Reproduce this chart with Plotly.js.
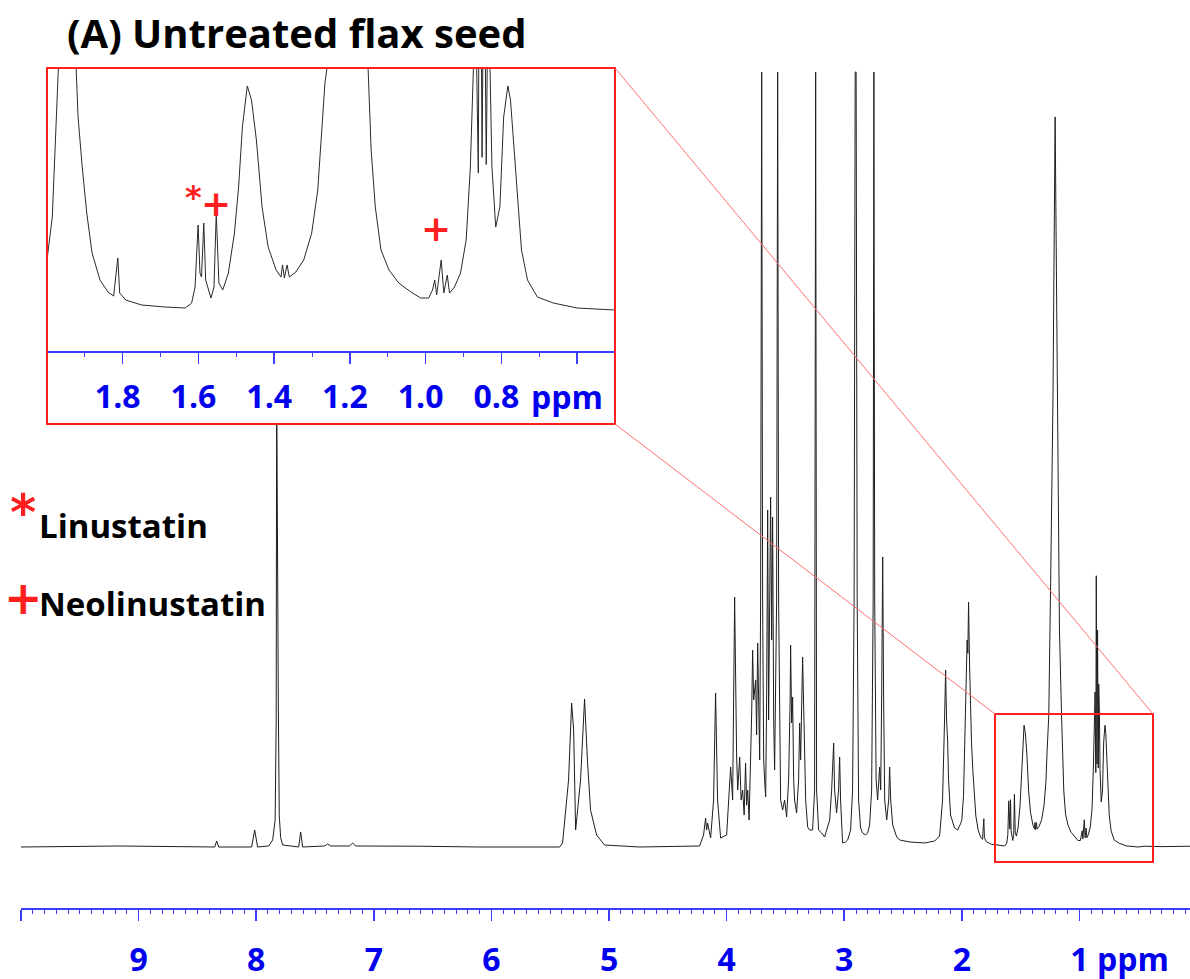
<!DOCTYPE html>
<html><head><meta charset="utf-8">
<script src="https://cdn.plot.ly/plotly-3.0.1.min.js"></script>
<style>html,body{margin:0;padding:0;background:#fff}#chart{width:1190px;height:979px}</style>
</head><body><div id="chart"></div>
<script>
// ---------- spectrum (chemical shift in ppm, intensity in % of full scale) ----------
// 10 → 2.0 ppm
const highPpm = [10.0, 9.164, 8.353, 8.336, 8.319, 8.039, 8.013, 7.988, 7.894, 7.860, 7.839, 7.830, 7.826, 7.819, 7.812, 7.804, 7.792, 7.775, 7.639, 7.622, 7.605, 7.418, 7.393, 7.367, 7.206, 7.180, 7.155, 6.610, 6.100, 5.420, 5.395, 5.344, 5.318, 5.301, 5.284, 5.242, 5.208, 5.183, 5.157, 5.106, 5.038, 4.740, 4.230, 4.196, 4.179, 4.170, 4.162, 4.136, 4.111, 4.094, 4.077, 4.051, 4.000, 3.966, 3.949, 3.932, 3.923, 3.915, 3.906, 3.889, 3.877, 3.864, 3.851, 3.839, 3.830, 3.821, 3.809, 3.796, 3.787, 3.779, 3.770, 3.753, 3.745, 3.736, 3.728, 3.719, 3.711, 3.702, 3.694, 3.685, 3.677, 3.668, 3.660, 3.651, 3.643, 3.634, 3.626, 3.617, 3.609, 3.600, 3.592, 3.575, 3.566, 3.558, 3.549, 3.541, 3.524, 3.507, 3.490, 3.473, 3.460, 3.456, 3.447, 3.439, 3.430, 3.422, 3.405, 3.388, 3.379, 3.371, 3.354, 3.345, 3.337, 3.328, 3.311, 3.294, 3.269, 3.252, 3.243, 3.235, 3.218, 3.192, 3.167, 3.141, 3.124, 3.107, 3.090, 3.082, 3.065, 3.048, 3.039, 3.031, 3.014, 2.988, 2.971, 2.946, 2.929, 2.916, 2.907, 2.899, 2.890, 2.878, 2.861, 2.844, 2.818, 2.801, 2.784, 2.767, 2.754, 2.748, 2.741, 2.729, 2.716, 2.699, 2.690, 2.682, 2.673, 2.665, 2.656, 2.639, 2.622, 2.614, 2.605, 2.588, 2.554, 2.529, 2.444, 2.316, 2.231, 2.189, 2.164, 2.147, 2.138, 2.130, 2.121, 2.113, 2.096, 2.062, 2.036, 2.011];
const highInt = [0, 0.13, 0, 0.77, 0, 0, 2.19, 0, 0.13, 0.9, 3.5, 16.4, 60, 30, 18.6, 4.1, 1.2, 0.26, 0, 1.94, 0, 0.13, 0.39, 0.13, 0.13, 0.52, 0.13, 0.1, 0, 0, 0.52, 8.65, 18.58, 15.1, 2.19, 8.65, 19.10, 11.0, 4.77, 1.55, 0.26, 0, 0.13, 1.55, 3.74, 2.19, 3.10, 1.16, 6.06, 19.87, 6.06, 1.16, 1.55, 10.32, 6.06, 32.26, 19.0, 11.61, 7.35, 11.61, 6.06, 7.35, 4.13, 10.84, 5.4, 7.35, 3.48, 11.23, 17.29, 25.42, 18.97, 21.55, 14.45, 26.32, 16.39, 11.23, 31.87, 100, 31.87, 11.23, 8.65, 6.45, 18.97, 43.48, 16.39, 31.87, 45.16, 26.71, 42.58, 16.39, 9.94, 31.87, 100, 31.87, 11.23, 6.06, 4.77, 6.06, 3.87, 8.65, 18.97, 26.06, 16.0, 19.35, 8.65, 6.06, 4.39, 8.65, 16.0, 11.23, 24.52, 16.39, 11.61, 6.06, 2.58, 2.19, 2.19, 7.35, 100, 7.35, 2.19, 1.81, 1.29, 2.45, 3.48, 7.35, 13.42, 7.35, 4.39, 7.35, 11.61, 6.06, 0.52, 0.65, 0.9, 2.19, 7.35, 31.87, 100, 100, 31.87, 6.06, 2.45, 1.81, 1.55, 1.81, 2.84, 7.35, 31.87, 100, 31.87, 8.65, 6.06, 10.32, 7.35, 18.97, 37.42, 18.97, 6.06, 3.48, 6.06, 10.32, 6.06, 2.84, 1.29, 0.9, 0.65, 0.52, 0.77, 1.42, 6.06, 16.39, 22.84, 16.39, 13.81, 8.65, 4.13, 2.45, 2.19, 3.0];
// 2.0 → 0.5 ppm
const midPpm = [2.000, 1.986, 1.972, 1.967, 1.960, 1.955, 1.949, 1.943, 1.935, 1.928, 1.923, 1.918, 1.907, 1.895, 1.881, 1.860, 1.839, 1.824, 1.813, 1.808, 1.792, 1.750, 1.688, 1.635, 1.618, 1.609, 1.601, 1.596, 1.592, 1.586, 1.581, 1.567, 1.559, 1.553, 1.546, 1.536, 1.521, 1.505, 1.494, 1.484, 1.471, 1.460, 1.447, 1.432, 1.416, 1.395, 1.382, 1.378, 1.373, 1.366, 1.360, 1.343, 1.322, 1.301, 1.285, 1.275, 1.266, 1.261, 1.245, 1.225, 1.207, 1.190, 1.170, 1.152, 1.144, 1.133, 1.118, 1.097, 1.071, 1.039, 1.013, 0.992, 0.982, 0.976, 0.971, 0.959, 0.952, 0.943, 0.937, 0.924, 0.908, 0.893, 0.882, 0.874, 0.867, 0.861, 0.857, 0.851, 0.846, 0.840, 0.836, 0.830, 0.825, 0.815, 0.804, 0.794, 0.783, 0.776, 0.762, 0.747, 0.731, 0.705, 0.663, 0.600, 0.501];
const midInt = [3.51, 6.52, 14.73, 16.9, 22, 26.7, 25, 31.6, 24, 19, 16.9, 13.53, 10.03, 6.80, 4.00, 2.10, 1.26, 0.98, 3.65, 1.19, 0.70, 0.35, 0.21, 0.14, 0.49, 1.61, 5.96, 2.59, 2.31, 6.10, 2.10, 0.84, 1.61, 6.80, 1.89, 1.40, 2.59, 5.40, 8.63, 12.83, 15.71, 14.73, 11.92, 7.22, 4.42, 2.81, 2.31, 3.16, 2.24, 3.16, 2.31, 2.66, 3.51, 5.40, 8.42, 12.41, 15.92, 16.9, 34, 58, 94.2, 58, 28, 16.9, 11.22, 7.22, 4.21, 2.81, 1.89, 1.26, 0.84, 0.84, 1.40, 2.10, 1.05, 3.51, 1.19, 2.45, 1.19, 1.61, 2.59, 4.91, 10.03, 16.9, 20, 9.6, 35, 10.7, 28, 10.2, 21, 16.9, 10.03, 5.82, 7.22, 13.53, 15.71, 14.73, 9.61, 4.21, 2.10, 0.91, 0.49, 0.14, 0.0];
// 0.5 → 0 ppm
const lowPpm = [0.45, 0.30, 0.06];
const lowInt = [0.1, 0.05, 0.1];

// ---------- axis ticks and labels ----------
const mainTickVals = [10, 9, 8, 7, 6, 5, 4, 3, 2, 1];
const mainTickText = ['', '9', '8', '7', '6', '5', '4', '3', '2', '1'];
const insetTickVals = [2.0, 1.8, 1.6, 1.4, 1.2, 1.0, 0.8, 0.6];
const insetTickText = ['', '1.8', '1.6', '1.4', '1.2', '1.0', '0.8', ''];
const unitLabel = 'ppm';
const titleText = '(A) Untreated flax seed';

// ---------- assignments ----------
const compoundSymbols = ['*', '+'];
const compoundNames = ['Linustatin', 'Neolinustatin'];
const markedPeakPpm = [1.612, 1.555, 0.973];
const markedPeakSymbol = ['*', '+', '+'];

// ---------- layout helpers ----------
const W = 1190, H = 979, ML = 21, MR = 0, MT = 66, MB = 71;
const PW = W - ML - MR, PH = H - MT - MB;
const fx = x => (x - ML) / PW;
const fy = y => (H - MB - y) / PH;
const AX = '#3c3cff', LAB = '#0000ee', RED = '#ff1f1f';

const spectrumPpm = highPpm.concat(midPpm, lowPpm);
const spectrumInt = highInt.concat(midInt, lowInt);

const mainBase = 847, mainScale = 7.75;      // px
const insetBase = 310, insetScale = 14.26;   // px

const tickFont = {family: 'Open Sans', size: 32, color: LAB, weight: 700};
function axisStyle(extra) {
  return Object.assign({
    showgrid: false, zeroline: false, showline: true, linecolor: AX, linewidth: 1.5,
    ticks: 'outside', ticklen: 11, tickwidth: 1.5, tickcolor: AX, tickmode: 'array',
    tickfont: tickFont, fixedrange: true,
    minor: {tickmode: 'linear', tick0: 0, dtick: 0.1, ticks: 'outside', ticklen: 4, tickwidth: 1, tickcolor: AX, showgrid: false}
  }, extra);
}

const traces = [
  {x: spectrumPpm, y: spectrumInt, xaxis: 'x', yaxis: 'y', mode: 'lines',
   line: {color: '#1e1e1e', width: 1}, hoverinfo: 'skip', showlegend: false},
  {x: spectrumPpm, y: spectrumInt, xaxis: 'x2', yaxis: 'y2', mode: 'lines',
   line: {color: '#2a2a2a', width: 1}, hoverinfo: 'skip', showlegend: false}
];

const annotations = [];
// unit labels
annotations.push({xref: 'x', yref: 'paper', x: 0.548, y: fy(958), text: unitLabel, showarrow: false,
  xanchor: 'center', yanchor: 'middle', font: tickFont});
annotations.push({xref: 'x2', yref: 'paper', x: 0.628, y: fy(396), text: unitLabel, showarrow: false,
  xanchor: 'center', yanchor: 'middle', font: tickFont});
// compound key
const keyY = [525, 603];
const symY = [513, 598];
const symSize = [50, 46];
compoundNames.forEach((n, i) => {
  annotations.push({xref: 'paper', yref: 'paper', x: fx(37), y: fy(keyY[i]), text: n, showarrow: false,
    xanchor: 'left', yanchor: 'middle', font: {family: 'Open Sans', size: 33, color: '#000', weight: 700}});
  annotations.push({xref: 'paper', yref: 'paper', x: fx(23), y: fy(symY[i]), text: compoundSymbols[i], showarrow: false,
    xanchor: 'center', yanchor: 'middle', font: {family: 'DejaVu Sans', size: symSize[i], color: RED, weight: 700}});
});
// peak markers in the inset
const markY = [197, 203, 229];
const markSize = [32, 36, 36];
markedPeakPpm.forEach((p, i) => {
  annotations.push({xref: 'x2', yref: 'paper', x: p, y: fy(markY[i]), text: markedPeakSymbol[i], showarrow: false,
    xanchor: 'center', yanchor: 'middle', font: {family: 'DejaVu Sans', size: markSize[i], color: RED, weight: 700}});
});

const shapes = [
  {type: 'rect', xref: 'paper', yref: 'paper', x0: fx(995), x1: fx(1153), y0: fy(862), y1: fy(714), line: {color: RED, width: 2}},
  {type: 'rect', xref: 'paper', yref: 'paper', x0: fx(47), x1: fx(615), y0: fy(424), y1: fy(68), line: {color: RED, width: 2}},
  {type: 'line', xref: 'paper', yref: 'paper', x0: fx(615), y0: fy(68), x1: fx(1153), y1: fy(714), line: {color: '#ff7070', width: 1}},
  {type: 'line', xref: 'paper', yref: 'paper', x0: fx(615), y0: fy(424), x1: fx(995), y1: fy(714), line: {color: '#ff7070', width: 1}}
];

const layout = {
  width: W, height: H,
  margin: {l: ML, r: MR, t: MT, b: MB, pad: 0},
  paper_bgcolor: '#ffffff', plot_bgcolor: 'rgba(255,255,255,1)',
  showlegend: false,
  title: {text: titleText, x: 67 / W, xref: 'container', xanchor: 'left', y: 1 - 34 / H, yref: 'container', yanchor: 'middle',
    font: {family: 'Open Sans', size: 40, color: '#000', weight: 700}},
  xaxis: axisStyle({domain: [0, 1], range: [10, 0.06], anchor: 'y', tickvals: mainTickVals, ticktext: mainTickText,
    ticklabelstandoff: 12}),
  yaxis: {domain: [0, 1], range: [-(908 - mainBase) / mainScale, (mainBase - 66) / mainScale], visible: false, fixedrange: true},
  xaxis2: axisStyle({domain: [fx(47), fx(615)], range: [2.0, 0.5], anchor: 'free', position: fy(351),
    tickvals: insetTickVals, ticktext: insetTickText, ticklabelstandoff: 6, ticklabelshift: 5}),
  yaxis2: {domain: [fy(424), fy(68)], range: [-(424 - insetBase) / insetScale, (insetBase - 68) / insetScale],
    anchor: 'x2', visible: false, fixedrange: true},
  annotations: annotations,
  shapes: shapes
};

Plotly.newPlot('chart', traces, layout, {displayModeBar: false, staticPlot: true});
</script>
</body></html>
